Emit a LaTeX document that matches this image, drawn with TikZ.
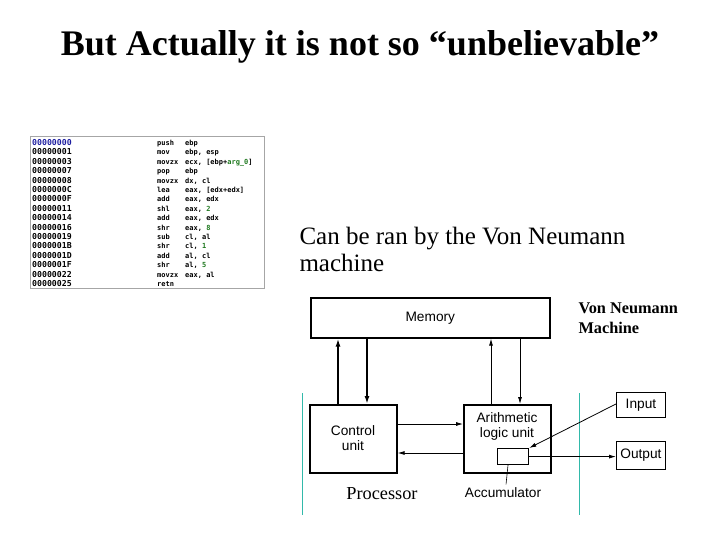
\documentclass[tikz,border=0pt]{standalone}
\usepackage{fontspec}
\setmainfont{Liberation Serif}
\newfontfamily\diagsans{Liberation Sans}
\newfontfamily\codefont{DejaVu Sans Mono}
\usetikzlibrary{arrows.meta}
\definecolor{addrblue}{RGB}{30,30,160}
\definecolor{argreen}{RGB}{30,120,30}
\definecolor{tealline}{RGB}{50,185,170}
\begin{document}
\begin{tikzpicture}[x=1pt,y=-1pt,
  thickbox/.style={draw,line width=1.6pt},
  thinbox/.style={draw,line width=0.9pt},
  lbl/.style={font=\diagsans\fontsize{13.7}{15}\selectfont,align=center},
  codeline/.style={anchor=base west,inner sep=0pt,font=\codefont\bfseries\fontsize{7}{8}\selectfont},
  addrline/.style={codeline,font=\codefont\bfseries\fontsize{8.2}{9}\selectfont},
  arr/.style={-{Latex[length=7pt,width=4pt]},line width=0.8pt},
  tarr/.style={-{Latex[length=8pt,width=5pt]},line width=1.8pt}]
\useasboundingbox (0,0) rectangle (720,540);
% title
\node[font=\bfseries\fontsize{36}{40}\selectfont] (title) at (360,47) {But Actually it is not so “unbelievable”};
% code listing
\node[draw=gray!70,line width=0.6pt,minimum width=234pt,minimum height=152pt,anchor=north west,inner sep=0pt] (code) at (30,136) {};
\foreach \i/\a/\m/\o in {
 0/00000000/push/ebp,
 1/00000001/mov/{ebp, esp},
 2/00000003/movzx/{ecx, [ebp+\textcolor{argreen}{arg\_0}]},
 3/00000007/pop/ebp,
 4/00000008/movzx/{dx, cl},
 5/0000000C/lea/{eax, [edx+edx]},
 6/0000000F/add/{eax, edx},
 7/00000011/shl/{eax, \textcolor{argreen}{2}},
 8/00000014/add/{eax, edx},
 9/00000016/shr/{eax, \textcolor{argreen}{8}},
 10/00000019/sub/{cl, al},
 11/0000001B/shr/{cl, \textcolor{argreen}{1}},
 12/0000001D/add/{al, cl},
 13/0000001F/shr/{al, \textcolor{argreen}{5}},
 14/00000022/movzx/{eax, al},
 15/00000025/retn/{}}{
  \node[addrline] (ad\i) at (32,145.5+9.4*\i) {\ifnum\i=0 \textcolor{addrblue}{\a}\else\a\fi};
  \node[codeline] (mn\i) at (157,145.5+9.4*\i) {\m};
  \node[codeline] (op\i) at (185,145.5+9.4*\i) {\o};
}
% caption
\node[anchor=west,align=left,font=\fontsize{25}{27}\selectfont] (cap) at (296,249) {Can be ran by the Von Neumann\\machine};
% diagram
\node[thickbox,minimum width=239pt,minimum height=40pt,anchor=north west] (mem) at (310,297) {};
\node[lbl] at (mem.center) {Memory};
\node[align=left,anchor=west,font=\bfseries\fontsize{16.3}{20}\selectfont] (vnm) at (575,318) {Von Neumann\\Machine};
\node[thickbox,minimum width=87pt,minimum height=68pt,anchor=north west] (cu) at (309,404) {};
\node[lbl] at (353,438) {Control\\unit};
\node[thickbox,minimum width=87pt,minimum height=68pt,anchor=north west] (alu) at (463,404) {};
\node[lbl] at (507,426) {Arithmetic\\logic unit};
\node[thickbox,line width=1.2pt,minimum width=31pt,minimum height=16pt,anchor=north west,inner sep=0pt] (acc) at (497,448) {};
\node[thinbox,lbl,minimum width=49pt,minimum height=25pt,anchor=north west,inner sep=0pt] (in) at (616,392) {Input};
\node[thinbox,lbl,minimum width=49pt,minimum height=28pt,anchor=north west,inner sep=0pt] (out) at (616,441) {Output};
\node[lbl] (acclbl) at (503,493) {Accumulator};
\node[font=\fontsize{18.3}{20}\selectfont] (proc) at (382,494) {Processor};
% teal lines
\coordinate (t1a) at (302,393); \coordinate (t1b) at (302,515);
\coordinate (t2a) at (579,393); \coordinate (t2b) at (579,515);
\draw[tealline,line width=0.9pt] (t1a) -- (t1b);
\draw[tealline,line width=0.9pt] (t2a) -- (t2b);
% arrows
\draw[tarr] (cu.north -| 338,0) -- (mem.south -| 338,0);
\draw[tarr] (mem.south -| 367,0) -- (cu.north -| 367,0);
\draw[arr] (alu.north -| 491,0) -- (mem.south -| 491,0);
\draw[arr] (mem.south -| 520,0) -- (alu.north -| 520,0);
\draw[arr] (cu.east |- 0,424) -- (alu.west |- 0,424);
\draw[arr] (alu.west |- 0,453) -- (cu.east |- 0,453);
\draw[arr] (in.west) ++(0,-1) -- (acc.north east) ;
\draw[arr] (acc.east) -- (out.west |- acc.east);
\draw[line width=0.6pt] (acclbl.north -| 506,0) -- (acc.south -| 508,0);
\end{tikzpicture}
\end{document}
